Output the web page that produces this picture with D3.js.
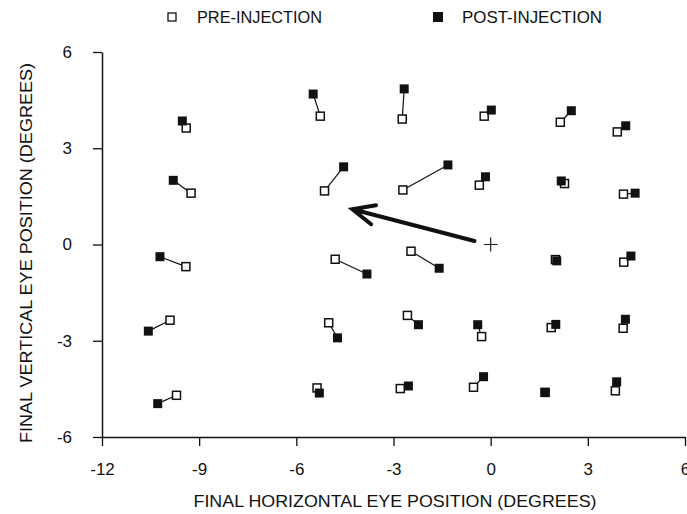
<!DOCTYPE html>
<html>
<head>
<meta charset="utf-8">
<script src="https://cdn.jsdelivr.net/npm/d3@7/dist/d3.min.js"></script>
<style>
  body { margin: 0; background: #fff; }
  svg text { font-family: "Liberation Sans Narrow", "Arial Narrow", "Liberation Sans", sans-serif; fill: #111; }
</style>
</head>
<body>
<div id="chart"></div>
<script>
/** Data: pre-injection (open) and post-injection (filled) end points */
const preX = [-9.40, -5.26, -2.73, -0.20, 2.15, 3.91,
              -9.25, -5.13, -2.71, -0.35, 2.28, 4.10,
              -9.41, -4.80, -2.46, 2.00, 4.11,
              -9.90, -5.00, -2.57, -0.28, 1.87, 4.09,
              -9.70, -5.36, -2.79, -0.53, 1.68, 3.85];
const preY = [3.63, 4.00, 3.91, 4.00, 3.81, 3.51,
              1.60, 1.67, 1.70, 1.85, 1.90, 1.57,
              -0.69, -0.46, -0.21, -0.47, -0.55,
              -2.36, -2.44, -2.21, -2.87, -2.59, -2.61,
              -4.70, -4.47, -4.49, -4.45, -4.61, -4.56];
const postX = [-9.52, -5.48, -2.67, 0.02, 2.49, 4.17,
               -9.80, -4.54, -1.32, -0.16, 2.18, 4.46,
               -10.21, -3.82, -1.59, 2.04, 4.33,
               -10.57, -4.73, -2.23, -0.40, 2.01, 4.16,
               -10.28, -5.29, -2.54, -0.22, 1.68, 3.89];
const postY = [3.85, 4.69, 4.85, 4.19, 4.17, 3.70,
               2.00, 2.42, 2.48, 2.11, 1.98, 1.60,
               -0.38, -0.92, -0.74, -0.51, -0.36,
               -2.70, -2.91, -2.50, -2.50, -2.49, -2.33,
               -4.96, -4.63, -4.41, -4.12, -4.61, -4.28];

/** Arrow (start, tip) and fixation cross */
const arrowX = [-0.50, -4.27];
const arrowY = [0.11, 1.10];
const fixation = [0, 0];

const xTicks = [-12, -9, -6, -3, 0, 3, 6];
const yTicks = [-6, -3, 0, 3, 6];
const legendLabels = ["PRE-INJECTION", "POST-INJECTION"];

/** Graph configs */
const width = 687;
const height = 514;

const xScale = d3.scaleLinear().domain([-12, 6]).range([102, 685]);
const yScale = d3.scaleLinear().domain([-6, 6]).range([437, 52]);

const svg = d3.select("#chart").append("svg")
  .attr("width", width)
  .attr("height", height);

/** Axes (plain hyphen for negatives, like the original) */
const fmt = (d) => String(d);

const xAxis = svg.append("g")
  .attr("transform", `translate(0,${yScale(-6)})`)
  .call(d3.axisBottom(xScale).tickValues(xTicks).tickSize(9).tickSizeOuter(0).tickPadding(17)
    .tickFormat(fmt));
xAxis.select(".domain").attr("stroke", "#111").attr("stroke-width", 1.5);
xAxis.selectAll(".tick line").attr("stroke", "#111").attr("stroke-width", 1.3);
xAxis.selectAll(".tick text").attr("font-size", 17).style("font-family", null);

const yAxis = svg.append("g")
  .attr("transform", `translate(${xScale(-12)},0)`)
  .call(d3.axisLeft(yScale).tickValues(yTicks).tickSize(9).tickSizeOuter(0).tickPadding(21)
    .tickFormat(fmt));
yAxis.select(".domain").attr("stroke", "#111").attr("stroke-width", 1.5);
yAxis.selectAll(".tick line").attr("stroke", "#111").attr("stroke-width", 1.3);
yAxis.selectAll(".tick text").attr("font-size", 17).style("font-family", null);

/** Axis titles */
svg.append("text")
  .attr("x", 395).attr("y", 507)
  .attr("text-anchor", "middle")
  .attr("font-size", 17)
  .attr("textLength", 403).attr("lengthAdjust", "spacingAndGlyphs")
  .text("FINAL HORIZONTAL EYE POSITION (DEGREES)");

svg.append("text")
  .attr("transform", "translate(32,253) rotate(-90)")
  .attr("text-anchor", "middle")
  .attr("font-size", 17)
  .attr("textLength", 380).attr("lengthAdjust", "spacingAndGlyphs")
  .text("FINAL VERTICAL EYE POSITION (DEGREES)");

/** Legend */
svg.append("rect").attr("x", 168).attr("y", 13).attr("width", 8).attr("height", 8)
  .attr("fill", "#fff").attr("stroke", "#111").attr("stroke-width", 1.3);
svg.append("text").attr("x", 197).attr("y", 23).attr("font-size", 17)
  .attr("textLength", 125).attr("lengthAdjust", "spacingAndGlyphs").text(legendLabels[0]);
svg.append("rect").attr("x", 433).attr("y", 12).attr("width", 10).attr("height", 10).attr("fill", "#111");
svg.append("text").attr("x", 462).attr("y", 23).attr("font-size", 17)
  .attr("textLength", 140).attr("lengthAdjust", "spacingAndGlyphs").text(legendLabels[1]);

/** Connecting lines */
const idx = d3.range(preX.length);
svg.append("g").selectAll("line").data(idx).join("line")
  .attr("x1", (i) => xScale(preX[i])).attr("y1", (i) => yScale(preY[i]))
  .attr("x2", (i) => xScale(postX[i])).attr("y2", (i) => yScale(postY[i]))
  .attr("stroke", "#111").attr("stroke-width", 1.2);

/** Pre-injection: open squares */
const preSize = 8;
svg.append("g").selectAll("rect").data(idx).join("rect")
  .attr("x", (i) => xScale(preX[i]) - preSize / 2)
  .attr("y", (i) => yScale(preY[i]) - preSize / 2)
  .attr("width", preSize).attr("height", preSize)
  .attr("fill", "#fff").attr("stroke", "#111").attr("stroke-width", 1.5);

/** Post-injection: filled squares */
const postSize = 9;
svg.append("g").selectAll("rect").data(idx).join("rect")
  .attr("x", (i) => xScale(postX[i]) - postSize / 2)
  .attr("y", (i) => yScale(postY[i]) - postSize / 2)
  .attr("width", postSize).attr("height", postSize)
  .attr("fill", "#111");

/** Fixation cross */
const fx = xScale(fixation[0]), fy = yScale(fixation[1]);
svg.append("path")
  .attr("d", `M${fx - 7},${fy}H${fx + 7}M${fx},${fy - 7}V${fy + 7}`)
  .attr("stroke", "#222").attr("stroke-width", 1.2);

/** Thick arrow */
const ax0 = xScale(arrowX[0]), ay0 = yScale(arrowY[0]);
const ax1 = xScale(arrowX[1]), ay1 = yScale(arrowY[1]);
const ang = Math.atan2(ay0 - ay1, ax0 - ax1);
const barb = 24, spread = 0.42;
svg.append("path")
  .attr("d", `M${ax0},${ay0}L${ax1},${ay1}` +
    `M${ax1 + barb * Math.cos(ang - spread)},${ay1 + barb * Math.sin(ang - spread)}L${ax1},${ay1}` +
    `L${ax1 + barb * Math.cos(ang + spread)},${ay1 + barb * Math.sin(ang + spread)}`)
  .attr("fill", "none").attr("stroke", "#111").attr("stroke-width", 4)
  .attr("stroke-linecap", "round").attr("stroke-linejoin", "miter");
</script>
</body>
</html>
